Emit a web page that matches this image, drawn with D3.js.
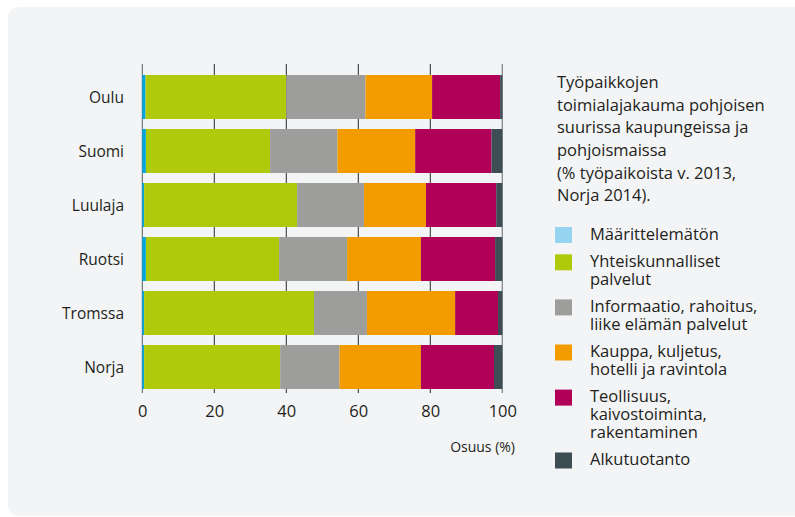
<!DOCTYPE html>
<html>
<head>
<meta charset="utf-8">
<script src="https://cdn.jsdelivr.net/npm/d3@7"></script>
<style>
  html, body { margin: 0; padding: 0; background: #ffffff; }
  #wrap { position: relative; width: 795px; height: 517px; overflow: hidden; }
  svg { display: block; position: absolute; left: 0; top: 0; }
  text { font-family: "Open Sans", "Noto Sans", sans-serif; fill: #231f20; }
  .htext { position: absolute; font-family: "Open Sans", "Noto Sans", sans-serif; color: #231f20; font-size: 16.5px; white-space: normal; margin: 0; padding: 0; }
</style>
</head>
<body>
<div id="wrap">
<svg id="chart" width="795" height="517"></svg>
</div>
<script>
// ---- Data ----
const cities = ["Oulu", "Suomi", "Luulaja", "Ruotsi", "Tromssa", "Norja"];
const seriesKeys = ["Määrittelemätön", "Yhteiskunnalliset palvelut", "Informaatio, rahoitus, liike elämän palvelut", "Kauppa, kuljetus, hotelli ja ravintola", "Teollisuus, kaivostoiminta, rakentaminen", "Alkutuotanto"];
const legendLineCounts = [1, 2, 2, 2, 3, 1];
const maarittelematon  = [0.9, 1.0, 0.5, 1.0, 0.5, 0.5];
const yhteiskunnalliset = [39.1, 34.5, 42.5, 37.0, 47.2, 37.8];
const informaatio      = [22.0, 18.7, 18.6, 18.9, 14.7, 16.5];
const kauppa           = [18.5, 21.6, 17.2, 20.5, 24.5, 22.6];
const teollisuus       = [18.9, 21.2, 19.5, 20.6, 11.9, 20.3];
const alkutuotanto     = [0.6, 3.0, 1.7, 2.0, 1.2, 2.3];
const xTicks = [0, 20, 40, 60, 80, 100];
const titleParts = ["Työpaikkojen", "toimialajakauma pohjoisen", "suurissa kaupungeissa ja", "pohjoismaissa", "(% työpaikoista v. 2013,", "Norja 2014)."];
const axisTitle = "Osuus (%)";

// ---- Styles ----
const barColors = ["#00a6df", "#afca0b", "#9d9d9c", "#f39c00", "#b00058", "#3e4c54"];
const legendColors = ["#96d5f0", "#afca0b", "#9d9d9c", "#f39c00", "#b00058", "#3e4c54"];

const seriesArrays = [maarittelematon, yhteiskunnalliset, informaatio, kauppa, teollisuus, alkutuotanto];
const rows = cities.map((c, i) => {
  const r = { city: c };
  seriesKeys.forEach((k, j) => r[k] = seriesArrays[j][i]);
  return r;
});

const svg = d3.select("#chart");
const wrap = d3.select("#wrap");

// card background
svg.append("rect")
  .attr("x", 8).attr("y", 7).attr("width", 810).attr("height", 509)
  .attr("rx", 10).attr("ry", 10)
  .attr("fill", "#f3f4f6");

const x = d3.scaleLinear().domain([0, 100]).range([142.3, 502.3]);
const y = d3.scaleBand().domain(cities).range([70, 394]).paddingInner(10 / 54).paddingOuter(5 / 54);

// gridlines (behind bars)
const gridColor = d => d === 0 ? "#555c60" : (d === 100 ? "#80888c" : "#2a2a2a");
svg.append("g").selectAll("line")
  .data(xTicks)
  .join("line")
  .attr("x1", d => x(d)).attr("x2", d => x(d))
  .attr("y1", 64).attr("y2", 393)
  .attr("stroke", gridColor)
  .attr("stroke-width", d => d === 100 ? 1.3 : 1);

// stacked bars
const stack = d3.stack().keys(seriesKeys);
const stacked = stack(rows);
svg.append("g").selectAll("g")
  .data(stacked)
  .join("g")
  .attr("fill", (d, i) => barColors[i])
  .selectAll("rect")
  .data(d => d)
  .join("rect")
  .attr("x", d => x(d[0]))
  .attr("width", d => x(d[1]) - x(d[0]))
  .attr("y", d => y(d.data.city))
  .attr("height", y.bandwidth());

// category labels
svg.append("g").selectAll("text")
  .data(cities)
  .join("text")
  .attr("x", 124)
  .attr("y", d => y(d) + y.bandwidth() / 2 + 5.5)
  .attr("text-anchor", "end")
  .attr("font-size", 15.5)
  .text(d => d);

// x axis labels
const xAxis = d3.axisBottom(x).tickValues(xTicks).tickSize(0).tickPadding(0).tickFormat(d3.format("d"));
const axisG = svg.append("g").attr("transform", "translate(0,410)").call(xAxis);
axisG.select(".domain").remove();
axisG.selectAll("text")
  .attr("font-size", 16.5)
  .attr("font-family", "Open Sans, sans-serif")
  .attr("fill", "#231f20")
  .attr("dy", "0.4em");

svg.append("text")
  .attr("x", 515).attr("y", 451.5)
  .attr("text-anchor", "end")
  .attr("font-size", 14)
  .text(axisTitle);

// title block (wrapped HTML text; each part kept together with no-break spaces)
const titleText = titleParts.map(p => p.replace(/ /g, "\u00a0")).join(" ");
wrap.append("div")
  .attr("class", "htext")
  .style("left", "557px")
  .style("top", (89 - 17.7) + "px")
  .style("width", "222px")
  .style("line-height", "22.6px")
  .text(titleText);

// legend
let ly = 227;
seriesKeys.forEach((label, i) => {
  svg.append("rect").attr("x", 555).attr("y", ly).attr("width", 17).attr("height", 16).attr("fill", legendColors[i]);
  wrap.append("div")
    .attr("class", "htext")
    .style("left", "590px")
    .style("top", (ly + 12.8 - 15.3) + "px")
    .style("width", "172px")
    .style("line-height", "17.8px")
    .text(label);
  ly += 9.5 + 17.8 * legendLineCounts[i];
});
</script>
</body>
</html>
